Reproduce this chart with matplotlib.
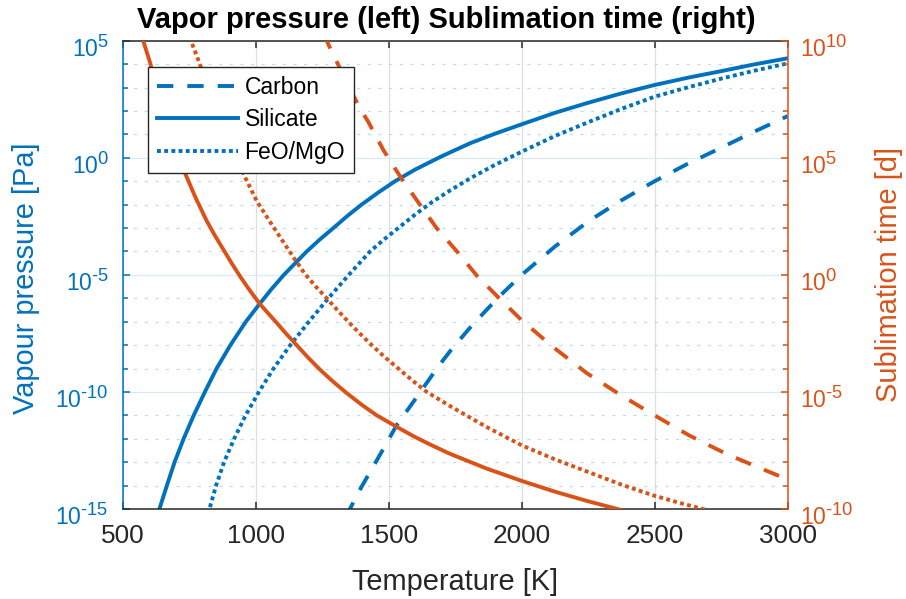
import matplotlib
matplotlib.use('Agg')
import matplotlib.pyplot as plt
import matplotlib.ticker as ticker
import matplotlib.transforms as mtransforms
import matplotlib._mathtext as mathtext_internal
import numpy as np

plt.rcParams.update({
    'font.family': ['Liberation Sans', 'DejaVu Sans'],
    'mathtext.fontset': 'custom',
    'mathtext.rm': 'Liberation Sans',
    'mathtext.it': 'Liberation Sans:italic',
    'mathtext.bf': 'Liberation Sans:bold',
    'axes.unicode_minus': False,
})
# MATLAB-like exponents: bigger superscripts than matplotlib's default 0.7
mathtext_internal.SHRINK_FACTOR = 0.8

BLUE = '#0072BD'
ORANGE = '#D95319'
DARK = '#262626'

# ── data (log10 values) ────────────────────────────────────
# vapour pressure [Pa], left axis
temp_carbon = [1340, 1354, 1398, 1474, 1530, 1593, 1686, 1730, 1800, 1860, 1918, 2000,
               2125, 2250, 2370, 2495, 2620, 2750, 2875, 3000]
logp_carbon = [-15.35, -15.0, -14.05, -12.55, -11.42, -10.42, -8.92, -8.27, -7.33, -6.59, -5.9, -5.0,
               -3.79, -2.72, -1.85, -1.03, -0.28, 0.43, 1.12, 1.78]

temp_silicate = [620, 638, 666, 695, 729, 767, 809, 853, 905, 963, 1014, 1060, 1106, 1130, 1192,
                 1240, 1292, 1345, 1398, 1460, 1524, 1600, 1693, 1750, 1806, 1900, 2000,
                 2125, 2250, 2375, 2500, 2625, 2750, 2875, 3000]
logp_silicate = [-15.8, -15.0, -14.0, -13.0, -12.0, -11.0, -10.0, -9.0, -8.0, -7.0, -6.25, -5.6, -5.0, -4.72, -4.0,
                 -3.5, -3.0, -2.48, -2.0, -1.49, -1.0, -0.5, 0.03, 0.33, 0.62, 1.03, 1.43,
                 1.92, 2.35, 2.75, 3.11, 3.42, 3.7, 3.99, 4.25]

temp_feo = [810, 826, 851, 881, 919, 962, 1012, 1067, 1130, 1200, 1273, 1350, 1430, 1480,
            1536, 1600, 1662, 1730, 1806, 1900, 2000, 2125, 2250, 2375, 2500, 2625, 2750, 2875, 3000]
logp_feo = [-15.5, -15.0, -14.0, -13.0, -12.0, -11.0, -10.0, -9.0, -8.0, -7.0, -6.0, -5.0, -4.0, -3.51,
            -3.0, -2.42, -1.9, -1.4, -0.88, -0.3, 0.26, 0.93, 1.52, 2.09, 2.61, 3.01, 3.38, 3.72, 4.03]

# sublimation time [d], right axis
ttemp_carbon = [1255, 1286, 1311, 1350, 1392, 1423, 1480, 1542, 1611, 1680, 1762, 1831, 1918, 2000,
                2120, 2245, 2370, 2495, 2630, 2770, 2885, 3000]
logt_carbon = [10.3, 9.53, 8.96, 8.04, 7.11, 6.54, 5.33, 4.22, 3.1, 2.0, 0.93, -0.03, -1.03, -1.94,
               -3.1, -4.2, -5.12, -5.97, -6.86, -7.65, -8.2, -8.74]

ttemp_silicate = [560, 577, 603, 660, 734, 775, 816, 845, 878, 910, 941, 975, 1014, 1045, 1079,
                  1115, 1154, 1195, 1242, 1290, 1342, 1400, 1455, 1530, 1593, 1660, 1730,
                  1865, 2000, 2125, 2250, 2370, 2420]
logt_silicate = [10.7, 10.0, 9.06, 6.6, 4.35, 3.27, 2.3, 1.71, 1.09, 0.49, -0.06, -0.62, -1.22, -1.62, -2.05,
                 -2.52, -3.0, -3.51, -4.05, -4.55, -5.05, -5.56, -6.0, -6.49, -6.89, -7.27, -7.64,
                 -8.26, -8.8, -9.26, -9.67, -10.03, -10.2]

ttemp_feo = [745, 759, 790, 860, 960, 1004, 1053, 1104, 1148, 1185, 1225, 1267, 1305, 1348, 1390,
             1436, 1485, 1536, 1590, 1643, 1730, 1865, 2000, 2125, 2250, 2370, 2495, 2600, 2708, 2760]
logt_feo = [10.45, 9.93, 9.0, 6.7, 4.17, 3.15, 2.28, 1.4, 0.65, 0.04, -0.49, -1.0, -1.48, -2.0, -2.49,
            -3.0, -3.51, -4.0, -4.52, -5.0, -5.6, -6.48, -7.28, -7.88, -8.42, -8.94, -9.42, -9.76, -10.08, -10.25]

labels = ['Carbon', 'Silicate', 'FeO/MgO']

LW = 2.8
DASHED = (0, (4.2, 3.6))
DOTTED = (0, (1.0, 0.85))


def pow10_label(v, pos):
    k = int(round(np.log10(v)))
    exp = str(k).replace('-', r'\text{-}')
    return r'$\mathdefault{10^{%s}}$' % exp


fig = plt.figure(figsize=(9.06, 5.99), dpi=100)
ax = fig.add_axes([122.7 / 906, 90 / 599, 665 / 906, 468.3 / 599])
ax2 = ax.twinx()

# left: vapour pressure
h1, = ax.plot(temp_carbon, np.power(10.0, logp_carbon), color=BLUE, lw=LW, ls=DASHED, dash_capstyle='butt')
h2, = ax.plot(temp_silicate, np.power(10.0, logp_silicate), color=BLUE, lw=LW, ls='-')
h3, = ax.plot(temp_feo, np.power(10.0, logp_feo), color=BLUE, lw=LW, ls=DOTTED, dash_capstyle='butt')

# right: sublimation time
ax2.plot(ttemp_carbon, np.power(10.0, logt_carbon), color=ORANGE, lw=LW, ls=DASHED, dash_capstyle='butt')
ax2.plot(ttemp_silicate, np.power(10.0, logt_silicate), color=ORANGE, lw=LW, ls='-')
ax2.plot(ttemp_feo, np.power(10.0, logt_feo), color=ORANGE, lw=LW, ls=DOTTED, dash_capstyle='butt')

for a, lo, hi in [(ax, 1e-15, 1e5), (ax2, 1e-10, 1e10)]:
    a.set_yscale('log')
    a.set_ylim(lo, hi)
    a.set_xlim(500, 3000)
    k0, k1 = int(np.log10(lo)), int(np.log10(hi))
    a.set_yticks([10.0 ** k for k in range(k0, k1 + 1, 5)])
    a.set_yticks([10.0 ** k for k in range(k0, k1 + 1)], minor=True)
    a.yaxis.set_major_formatter(ticker.FuncFormatter(pow10_label))
    a.yaxis.set_minor_formatter(ticker.NullFormatter())

ax.set_xticks(np.arange(500, 3001, 500))

# grid (MATLAB look)
ax.set_axisbelow(True)
ax.yaxis.grid(True, which='major', color='#D9EAF5', lw=0.9, ls='-')
ax.yaxis.grid(True, which='minor', color='#BFDCEE', lw=0.9, ls=(0, (2.5, 6)))
ax.xaxis.grid(True, which='major', color='#DFDFDF', lw=0.9)

# spines & ticks
ax.spines['left'].set_color(BLUE)
ax.spines['right'].set_visible(False)
for s in ['top', 'bottom']:
    ax.spines[s].set_color(DARK)
for s in ['left', 'top', 'bottom']:
    ax2.spines[s].set_visible(False)
ax2.spines['right'].set_color(ORANGE)
for sp in list(ax.spines.values()) + list(ax2.spines.values()):
    sp.set_linewidth(1.1)

ax.tick_params(axis='x', which='major', direction='in', top=True, length=5, width=1.1,
               color=DARK, labelcolor=DARK, labelsize=18.8, pad=11)
ax.tick_params(axis='y', which='both', direction='in', right=False, color=BLUE,
               labelcolor=BLUE, labelsize=16.5, width=1.1, pad=10)
ax.tick_params(axis='y', which='major', length=5)
ax.tick_params(axis='y', which='minor', length=3.5)
ax2.tick_params(axis='y', which='both', direction='in', left=False, color=ORANGE,
                labelcolor=ORANGE, labelsize=16.5, width=1.1, pad=8.5)
ax2.tick_params(axis='y', which='major', length=5)
ax2.tick_params(axis='y', which='minor', length=3.5)

# MATLAB puts the exponent labels a little below the tick
shift = mtransforms.ScaledTranslation(0, -5 / 100, fig.dpi_scale_trans)
for a in (ax, ax2):
    for lab in a.get_yticklabels():
        lab.set_transform(lab.get_transform() + shift)

# labels
ax.set_xlabel('Temperature [K]', fontsize=20.9, color=DARK)
ax.xaxis.set_label_coords(0.5, -0.125)
ax.set_ylabel('Vapour pressure [Pa]', fontsize=20.9, color=BLUE)
ax.yaxis.set_label_coords(-0.124, 0.493)
ax2.set_ylabel('Sublimation time [d]', fontsize=20.9, color=ORANGE)
ax2.yaxis.set_label_coords(1.131, 0.5)
ax.set_title('Vapor pressure (left) Sublimation time (right)', fontsize=21,
             fontweight='bold', pad=9.1, x=0.486)

leg = ax2.legend([h1, h2, h3], labels, loc='upper left',
                 bbox_to_anchor=(148.3 / 906, 1 - 66.7 / 599), bbox_transform=fig.transFigure,
                 borderaxespad=0, fontsize=16.5, handlelength=3.5, handletextpad=0.3,
                 labelspacing=0.42, borderpad=0.4, fancybox=False, framealpha=1)
leg.get_frame().set_edgecolor(DARK)
leg.get_frame().set_linewidth(1.0)
leg.set_zorder(10)

fig.savefig('out.png', dpi=100, facecolor='white')
